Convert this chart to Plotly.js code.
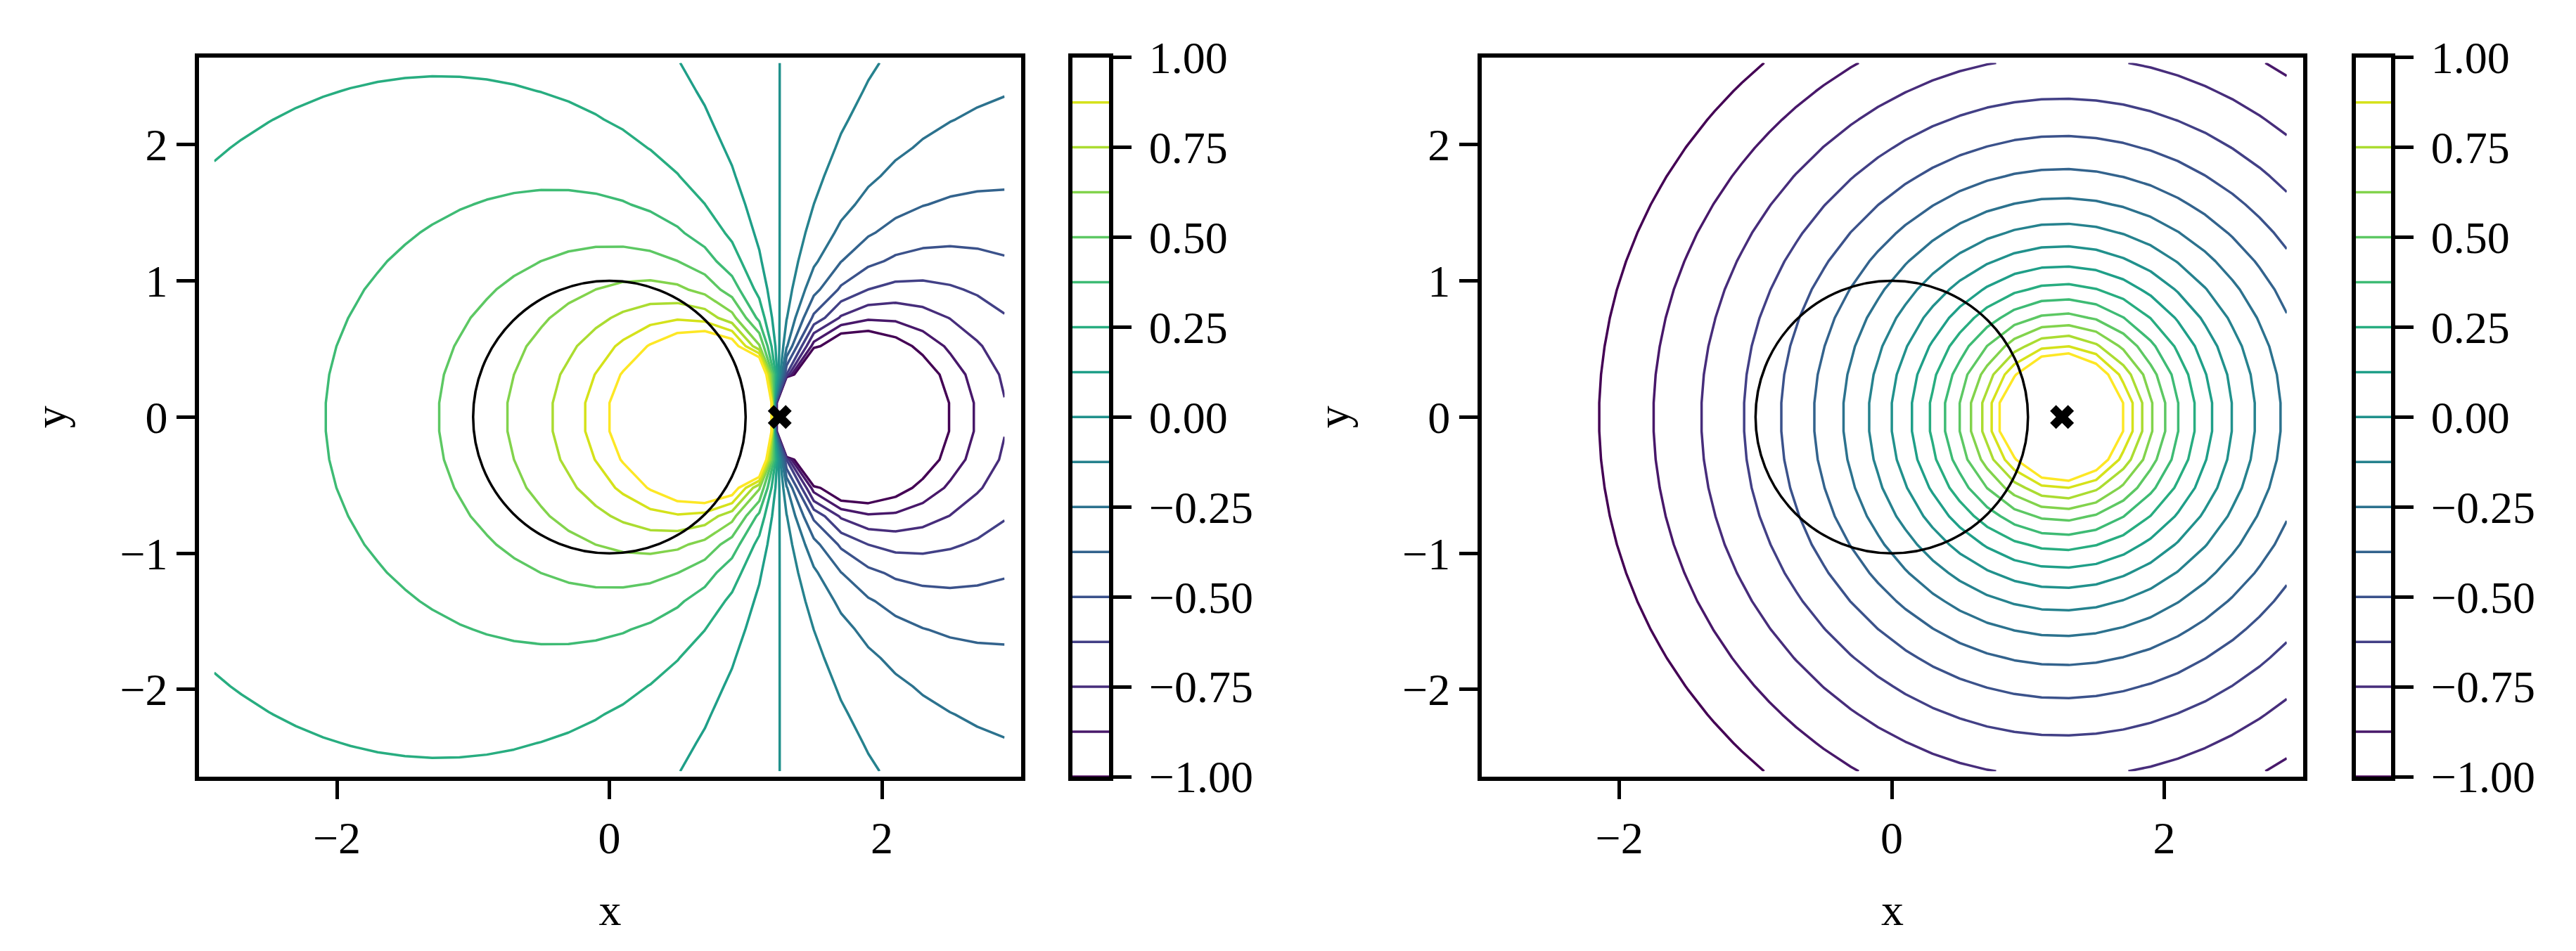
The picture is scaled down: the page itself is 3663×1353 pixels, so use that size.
<!DOCTYPE html>
<html><head><meta charset="utf-8">
<script src="https://cdn.plot.ly/plotly-3.0.1.min.js"></script>
<style>html,body{margin:0;padding:0;background:#fff}</style>
</head><body><div id="chart" style="width:3663px;height:1353px"></div>
<script>
// ---- values ----
const gridX = [-2.9, 2.9, 30];          // first, last, count of sample columns
const gridY = [-2.6, 2.6, 26];          // first, last, count of sample rows
const sourcePoint = [1.25, 0];          // the × marker (singular point)
const fieldScale = [1.25];
const unitCircle = [0, 0, 1];           // centre x, centre y, radius
const contourLevels = [-1, 1, 0.125];   // start, end, step
const cbTicks = [-1, -0.75, -0.5, -0.25, 0, 0.25, 0.5, 0.75, 1];
const cbTickText = ['\u22121.00','\u22120.75','\u22120.50','\u22120.25','0.00','0.25','0.50','0.75','1.00'];
const xTicks = [-2, 0, 2];
const xTickText = ['\u22122', '0', '2'];
const yTicks = [-2, -1, 0, 1, 2];
const yTickText = ['\u22122', '\u22121', '0', '1', '2'];
const axisLabels = ['x', 'y'];

// ---- grid & fields ----
function lin(a) { const o = []; for (let i = 0; i < a[2]; i++) o.push(a[0] + (a[1] - a[0]) * i / (a[2] - 1)); return o; }
const xs = lin(gridX), ys = lin(gridY);
const [sx, sy] = sourcePoint, k = fieldScale[0];
const zDip = ys.map(y => xs.map(x => { const dx = x - sx, dy = y - sy; return k * (-dx) / (dx * dx + dy * dy); }));
const zLog = ys.map(y => xs.map(x => { const dx = x - sx, dy = y - sy; return Math.log(k / Math.sqrt(dx * dx + dy * dy)); }));

const FONT = {family: 'Liberation Serif, Times New Roman, serif', size: 64, color: '#000'};
const contours = {start: contourLevels[0], end: contourLevels[1], size: contourLevels[2], coloring: 'lines', showlabels: false};
function ctr(z, xa, ya) {
  return {type: 'contour', x: xs, y: ys, z: z, xaxis: xa, yaxis: ya, colorscale: 'Viridis',
    zmin: contourLevels[0], zmax: contourLevels[1], autocontour: false, contours: contours,
    line: {width: 3.5, smoothing: 0}, showscale: false, hoverinfo: 'skip'};
}
function cbar(xa, ya) {
  return {type: 'contour', x: [0, 1], y: [contourLevels[0], contourLevels[1]],
    z: [[contourLevels[0], contourLevels[0]], [contourLevels[1], contourLevels[1]]],
    xaxis: xa, yaxis: ya, colorscale: 'Viridis', zmin: contourLevels[0], zmax: contourLevels[1],
    autocontour: false, contours: contours, line: {width: 3.5, smoothing: 0}, showscale: false, hoverinfo: 'skip'};
}
function mark(xa, ya) {
  return {type: 'scatter', mode: 'markers', x: [sourcePoint[0]], y: [sourcePoint[1]], xaxis: xa, yaxis: ya,
    marker: {symbol: 'x', size: 30, color: '#000', line: {width: 0}}, hoverinfo: 'skip', showlegend: false};
}
const data = [ctr(zDip, 'x', 'y'), mark('x', 'y'), ctr(zLog, 'x2', 'y2'), mark('x2', 'y2'), cbar('x3', 'y3'), cbar('x4', 'y4')];

const W = 3663, H = 1353;
const yDom = [(H - 1105) / H, (H - 81.7) / H];
const base = {showline: true, mirror: true, linecolor: '#000', linewidth: 6, ticks: 'outside', ticklen: 26, tickwidth: 5,
  tickcolor: '#000', showgrid: false, zeroline: false, tickfont: FONT, fixedrange: true, layer: 'above traces'};
function xa(dom, anchor) {
  return Object.assign({}, base, {domain: dom, anchor: anchor, range: [-3.01, 3.02], tickmode: 'array', tickvals: xTicks,
    ticktext: xTickText, title: {text: axisLabels[0], font: FONT, standoff: 46}});
}
function ya(anchor) {
  return Object.assign({}, base, {domain: yDom, anchor: anchor, range: [-2.64, 2.64], tickmode: 'array', tickvals: yTicks,
    ticktext: yTickText, title: {text: axisLabels[1], font: FONT, standoff: 58}});
}
function cbx(dom, anchor) {
  return {domain: dom, anchor: anchor, range: [0, 1], showline: true, mirror: true, linecolor: '#000', linewidth: 6,
    ticks: '', showticklabels: false, showgrid: false, zeroline: false, fixedrange: true, layer: 'above traces'};
}
function cby(anchor) {
  return Object.assign({}, base, {domain: yDom, anchor: anchor, side: 'right', range: [-1, 1], tickmode: 'array',
    tickvals: cbTicks, ticktext: cbTickText, ticklabelstandoff: 12});
}
const circ = (xr, yr) => ({type: 'circle', xref: xr, yref: yr, x0: unitCircle[0] - unitCircle[2], x1: unitCircle[0] + unitCircle[2],
  y0: unitCircle[1] - unitCircle[2], y1: unitCircle[1] + unitCircle[2], line: {color: '#000', width: 3.5}});
const layout = {
  width: W, height: H, margin: {l: 0, r: 0, t: 0, b: 0}, paper_bgcolor: '#fff', plot_bgcolor: '#fff', showlegend: false,
  font: FONT,
  xaxis: xa([283.3 / W, 1451.7 / W], 'y'), yaxis: ya('x'),
  xaxis2: xa([2107 / W, 3275 / W], 'y2'), yaxis2: ya('x2'),
  xaxis3: cbx([1525 / W, 1577 / W], 'y3'), yaxis3: cby('x3'),
  xaxis4: cbx([3350 / W, 3400 / W], 'y4'), yaxis4: cby('x4'),
  shapes: [circ('x', 'y'), circ('x2', 'y2')]
};
Plotly.newPlot('chart', data, layout, {staticPlot: true, displayModeBar: false});
</script></body></html>
